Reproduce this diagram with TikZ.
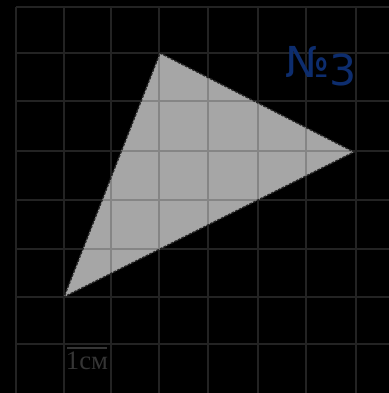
\documentclass[tikz,border=0pt]{standalone}
\usepackage{fontspec}
\usepackage{xcolor}
\usetikzlibrary{calc}
\newfontfamily\numberfont{DejaVu Sans}
\newfontfamily\scalefont{Liberation Serif}
\definecolor{gridgray}{HTML}{232323}
\definecolor{innergray}{HTML}{858585}
\definecolor{shapegray}{HTML}{A6A6A6}
\definecolor{numblue}{HTML}{0D2D6E}
\definecolor{scalegray}{HTML}{353535}

\begin{document}
\begin{tikzpicture}[
    x=0.75pt, y=-0.75pt,
    gridline/.style={draw=gridgray, line width=1.6pt},
    innerline/.style={draw=innergray, line width=1.6pt},
    edge/.style={draw=black!85, dash pattern=on 2pt off 1pt, line width=1.1pt},
    tasklabel/.style={text=numblue, font=\numberfont\fontsize{32}{32}\selectfont, inner sep=0pt},
    scalelabel/.style={text=scalegray, font=\scalefont\fontsize{20}{20}\selectfont, inner sep=0pt},
]
% Background and frame
\fill[black] (0,0) rectangle (389,393);
\useasboundingbox (0,0) rectangle (389,393);

% Grid
\foreach \gx in {16,64,111,159,208,258,306,356}
    \draw[gridline] (\gx,7) -- (\gx,393);
\foreach \gy in {7,53,101,151,200,249,297,344}
    \draw[gridline] (16,\gy) -- (389,\gy);

% Triangle
\coordinate (apex) at (160,53);
\coordinate (tip) at (354,152);
\coordinate (foot) at (64,297);
\fill[shapegray] (apex) -- (tip) -- (foot) -- cycle;
\begin{scope}
    \clip (apex) -- (tip) -- (foot) -- cycle;
    \foreach \gx in {16,64,111,159,208,258,306,356}
        \draw[innerline] (\gx,7) -- (\gx,393);
    \foreach \gy in {7,53,101,151,200,249,297,344}
        \draw[innerline] (16,\gy) -- (389,\gy);
\end{scope}
\draw[edge] (apex) -- (tip) -- (foot) -- cycle;

% Labels
\node[tasklabel] (task) at (321,66) {№\raisebox{-6pt}{3}};
\coordinate (barL) at (67,348);
\coordinate (barR) at (107,348);
\draw[draw=scalegray, line width=1pt] (barL) -- (barR);
\node[scalelabel, anchor=north] (unit) at ($(barL)!0.5!(barR)+(0,4)$) {1см};

\end{tikzpicture}
\end{document}
